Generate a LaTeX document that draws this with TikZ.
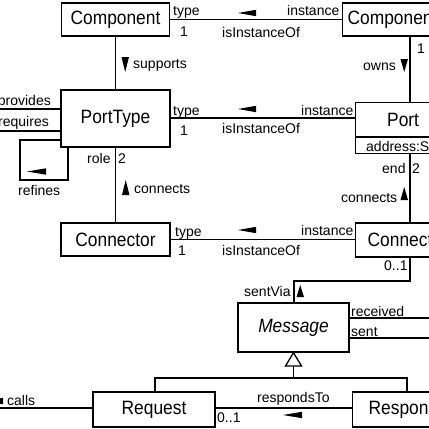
\documentclass[tikz,border=0pt]{standalone}
\usepackage{fontspec}
\setmainfont{Liberation Sans}
\newfontfamily\boxfont[FakeStretch=0.9]{Liberation Sans}
\begin{document}
\begin{tikzpicture}[x=1pt,y=-1pt,
  ln/.style={line width=1.3pt},
  box/.style={draw, line width=1.3pt, inner sep=0pt, font=\boxfont\fontsize{19.3}{21}\selectfont},
  boxtext/.style={inner sep=0pt, font=\boxfont\fontsize{19.3}{21}\selectfont},
  lbl/.style={inner sep=0pt, font=\fontsize{14}{16}\selectfont},
  tri/.style={fill=black}]
\useasboundingbox (0,0) rectangle (429,429);
% boxes
\node[box, minimum width=108pt, minimum height=33pt] (comp) at (115.5,19.5) {Component};
\node[box, anchor=west, minimum height=33pt, text width=100pt, align=left, inner xsep=5pt] (compi) at (342,19.5) {Component};
\node[box, minimum width=109pt, minimum height=57pt] (ptype) at (115.5,118.5) {PortType};
\node[box, anchor=north west, minimum width=90pt, minimum height=51pt] (port) at (355,102) {};
\node[boxtext, anchor=west] (portname) at (387,120) {Port};
\node[lbl, anchor=base west] (addr) at (366,151) {address:String};
\node[box, minimum width=109pt, minimum height=33pt] (conn) at (115.5,239.5) {Connector};
\node[box, anchor=west, minimum height=34pt, text width=100pt, align=left, inner xsep=12pt] (conni) at (355,240) {Connector};
\node[box, minimum width=111pt, minimum height=49pt, font=\boxfont\itshape\fontsize{19.3}{21}\selectfont] (msg) at (293.5,327.5) {Message};
\node[box, minimum width=122pt, minimum height=35pt] (req) at (154,409.5) {Request};
\node[box, anchor=west, minimum height=35pt, text width=100pt, align=left, inner xsep=16pt] (resp) at (352,409.5) {Response};
% divider of port
\draw[ln] (port.west |- 0,137) -- (port.east |- 0,137);
% horizontal associations
\draw[ln] (comp.east) -- (compi.west);
\draw[ln] (ptype.east |- 0,118) -- (port.west |- 0,118);
\draw[ln] (conn.east) -- (conn.east -| conni.west);
% verticals
\draw[ln] (comp.south) -- (ptype.north);
\draw[ln] (ptype.south) -- (conn.north);
\draw[ln] (compi.south -| 410,0) -- (port.north -| 410,0);
\draw[ln] (port.south -| 410,0) -- (conni.north -| 410,0);
\coordinate (cm) at (294,281);
\draw[ln] (conni.south -| 410,0) |- (cm) -- (msg.north -| cm);
% received / sent
\coordinate (recv) at (440,318);
\coordinate (sent) at (440,338);
\draw[ln] (msg.east |- recv) -- (recv);
\draw[ln] (msg.east |- sent) -- (sent);
% generalization
\draw[ln, fill=white] (msg.south) -- (285.5,366) -- (301.5,366) -- cycle;
\coordinate (gm) at (293.5,378);
\coordinate (gl) at (155,378);
\coordinate (gr) at (407,378);
\draw[ln] (293.5,366) -- (gm);
\draw[ln] (req.north -| gl) -- (gl) -- (gr) -- (resp.north -| gr);
% calls, respondsTo
\coordinate (callend) at (-5,408);
\draw[ln] (callend) -- (req.west |- callend);
\draw[ln] (req.east |- callend) -- (resp.west |- callend);
% provides / requires
\coordinate (pv) at (-5,109);
\coordinate (rq) at (-5,131);
\draw[ln] (pv) -- (pv -| ptype.west);
\draw[ln] (rq) -- (rq -| ptype.west);
% refines loop
\draw[ln] (ptype.west |- 0,140) -- (20,140) -- (20,180) -- (68,180) -- (ptype.south -| 68,0);
% direction triangles
\fill[tri] (238,13) -- (256,9.8) -- (256,16.2) -- cycle;
\fill[tri] (238,109) -- (256,105.8) -- (256,112.2) -- cycle;
\fill[tri] (238,230) -- (256,226.8) -- (256,233.2) -- cycle;
\fill[tri] (283,415) -- (302,411.8) -- (302,418.2) -- cycle;
\fill[tri] (27,171.5) -- (46,168.3) -- (46,174.7) -- cycle;
\fill[tri] (-15,401) -- (3,397.8) -- (3,404.2) -- cycle;
\fill[tri] (121.5,57) -- (129,57) -- (125.2,72) -- cycle;
\fill[tri] (400.5,59) -- (408,59) -- (404.2,72) -- cycle;
\fill[tri] (122,195) -- (129.5,195) -- (125.7,180) -- cycle;
\fill[tri] (400.5,200) -- (408,200) -- (404.2,187) -- cycle;
\fill[tri] (296.5,297) -- (304,297) -- (300.2,285) -- cycle;
% labels
\node[lbl, anchor=base west] (t1) at (173,15) {type};
\node[lbl, anchor=base west] (m1) at (180,36) {1};
\node[lbl, anchor=base west] (i1) at (287,15) {instance};
\node[lbl, anchor=base west] (o1) at (222,37) {isInstanceOf};
\node[lbl, anchor=base west] (t2) at (173,115) {type};
\node[lbl, anchor=base west] (m2) at (180,135) {1};
\node[lbl, anchor=base west] (i2) at (301,115) {instance};
\node[lbl, anchor=base west] (o2) at (222,133) {isInstanceOf};
\node[lbl, anchor=base west] (t3) at (175,236) {type};
\node[lbl, anchor=base west] (m3) at (178,255) {1};
\node[lbl, anchor=base west] (i3) at (301,235) {instance};
\node[lbl, anchor=base west] (o3) at (222,255) {isInstanceOf};
\node[lbl, anchor=base west] (sup) at (133,68) {supports};
\node[lbl, anchor=base west] (own) at (363,70) {owns};
\node[lbl, anchor=base west] (own1) at (417,53) {1};
\node[lbl, anchor=base west] (role) at (87,163) {role};
\node[lbl, anchor=base west] (role2) at (118,163) {2};
\node[lbl, anchor=base west] (cn1) at (134,193) {connects};
\node[lbl, anchor=base west] (endl) at (382,173) {end};
\node[lbl, anchor=base west] (end2) at (412,173) {2};
\node[lbl, anchor=base west] (cn2) at (341,202) {connects};
\node[lbl, anchor=base west] (z1) at (384,270) {0..1};
\node[lbl, anchor=base west] (sv) at (244,296) {sentVia};
\node[lbl, anchor=base west] (rcv) at (351,316) {received};
\node[lbl, anchor=base west] (snt) at (351,336) {sent};
\node[lbl, anchor=base west] (rt) at (257,402) {respondsTo};
\node[lbl, anchor=base west] (z2) at (217,422) {0..1};
\node[lbl, anchor=base west] (cl) at (7,405) {calls};
\node[lbl, anchor=base east] (prv) at (51,105) {provides};
\node[lbl, anchor=base east] (rqs) at (49,126) {requires};
\node[lbl, anchor=base west] (ref) at (18,195) {refines};
\end{tikzpicture}
\end{document}
